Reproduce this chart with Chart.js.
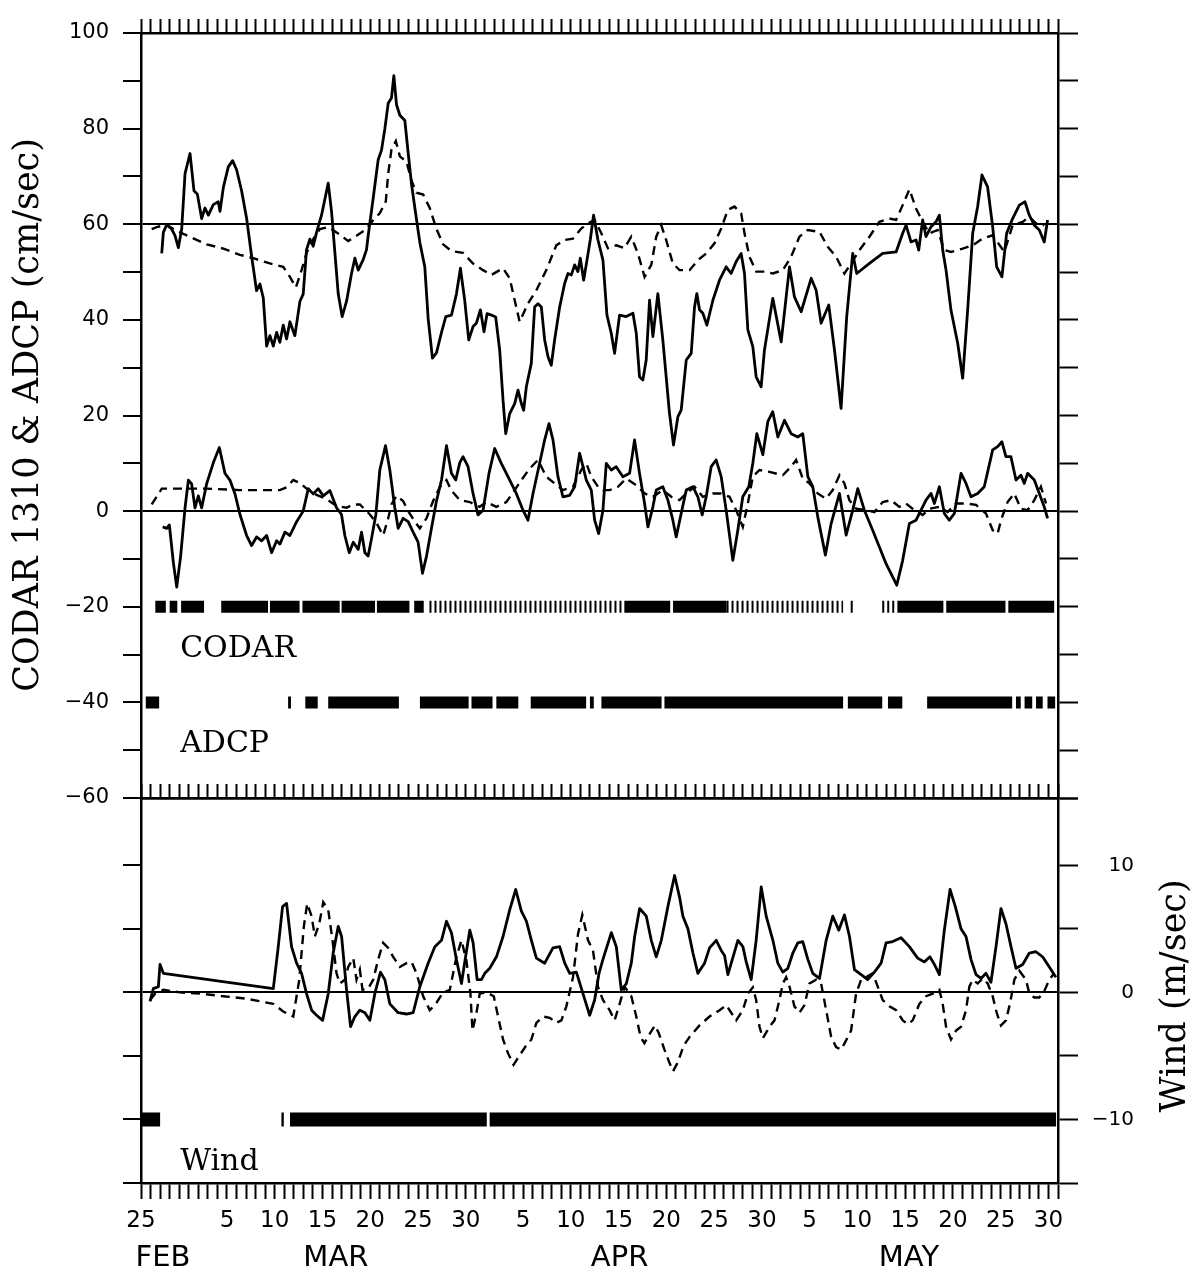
<!DOCTYPE html>
<html><head><meta charset="utf-8">
<script src="https://cdn.jsdelivr.net/npm/chart.js@4.4.1/dist/chart.umd.min.js"></script>
<style>
html,body{margin:0;padding:0;background:#fff;}
#wrap{position:relative;width:1202px;height:1274px;overflow:hidden;background:#fff;}
canvas{position:absolute;left:0;}
#c1{top:0;} #c2{top:770px;}
</style></head><body>
<div id="wrap"><canvas id="c1" width="1202" height="830"></canvas><canvas id="c2" width="1202" height="504"></canvas></div>
<script>
// ---- x axis: days since Feb 25 (1988, leap year) ----
const tickDays   = [0,9,14,19,24,29,34,40,45,50,55,60,65,70,75,80,85,90,95];
const tickLabels = ['25','5','10','15','20','25','30','5','10','15','20','25','30','5','10','15','20','25','30'];
const monthNames   = ['FEB','MAR','APR','MAY'];
const monthCenters = [2.3,20.4,50.1,80.4];

// ---- top panel: CODAR (solid) and ADCP (dashed), cm/sec ----
const codarAlong = [[2.17,53.9],[2.34,58.3],[2.69,59.9],[3.21,59.0],[3.56,57.6],[3.91,55.1],[4.26,59.0],[4.61,70.6],[5.13,74.8],[5.55,67.0],[5.9,66.3],[6.35,61.2],[6.7,63.4],[7.05,61.9],[7.57,64.1],[8.09,64.7],[8.27,62.7],[8.62,67.7],[9.14,72.0],[9.59,73.3],[10.01,71.4],[10.53,67.0],[11.06,61.2],[11.58,53.3],[12.1,46.1],[12.45,47.5],[12.8,44.6],[13.15,34.5],[13.5,36.7],[13.85,34.5],[14.2,37.4],[14.54,35.3],[14.89,38.9],[15.24,36.0],[15.59,39.6],[16.11,36.7],[16.64,43.9],[16.98,45.4],[17.33,54.7],[17.68,56.9],[18.03,55.4],[18.38,58.3],[18.9,61.9],[19.6,68.6],[19.95,62.6],[20.3,54.0],[20.65,45.4],[21.06,40.7],[21.52,43.9],[22.04,49.7],[22.39,52.9],[22.74,50.4],[23.26,52.6],[23.61,54.7],[23.78,57.6],[24.31,65.5],[24.83,73.5],[25.18,75.5],[25.53,80.0],[25.88,85.3],[26.22,86.4],[26.47,91.1],[26.75,85.0],[27.1,82.8],[27.62,81.7],[27.97,74.9],[28.32,68.4],[28.67,63.4],[29.19,56.2],[29.71,51.1],[30.06,40.3],[30.51,32.0],[30.93,33.1],[31.46,37.4],[31.91,40.7],[32.5,41.0],[33.02,45.4],[33.44,50.8],[33.89,44.1],[34.31,35.8],[34.76,38.6],[35.11,39.3],[35.53,42.1],[35.91,37.5],[36.23,41.3],[36.68,41.0],[37.13,40.6],[37.55,33.7],[37.9,23.2],[38.18,16.2],[38.6,20.4],[39.12,22.5],[39.47,25.3],[39.82,22.5],[40.06,21.1],[40.34,26.0],[40.86,30.9],[41.21,42.7],[41.56,43.4],[41.91,42.7],[42.26,35.8],[42.61,32.3],[42.95,30.5],[43.3,35.8],[43.83,42.7],[44.35,47.6],[44.7,49.7],[45.05,49.4],[45.4,51.5],[45.74,50.1],[45.99,52.9],[46.34,48.3],[46.69,52.5],[47.03,56.7],[47.38,61.9],[47.84,56.7],[48.36,52.5],[48.78,41.0],[49.23,37.2],[49.58,33.0],[50.1,41.0],[50.8,40.7],[51.5,41.4],[51.85,37.2],[52.19,28.1],[52.54,27.4],[52.89,31.6],[53.24,44.1],[53.59,36.5],[54.11,45.5],[54.63,35.8],[55.33,20.4],[55.75,13.8],[56.2,19.7],[56.55,21.1],[57.08,31.6],[57.6,33.0],[57.95,42.7],[58.19,45.5],[58.47,42.1],[58.82,41.4],[59.24,38.9],[59.87,44.1],[60.56,48.3],[61.26,51.1],[61.78,49.7],[62.31,52.2],[62.83,53.9],[63.18,49.7],[63.53,37.9],[64.05,34.4],[64.4,28.1],[64.92,26.0],[65.27,33.7],[66.14,44.5],[67.02,35.4],[67.89,51.1],[68.41,44.8],[69.11,41.7],[70.16,48.7],[70.68,46.2],[71.2,39.3],[72.0,43.1],[72.6,33.7],[73.29,21.5],[73.88,40.7],[74.51,53.9],[74.93,49.7],[76.26,51.8],[77.65,53.9],[79.05,54.2],[79.74,58.1],[80.09,59.8],[80.61,56.3],[81.14,56.7],[81.42,54.6],[81.83,60.9],[82.18,57.4],[82.71,59.5],[83.23,60.5],[83.58,61.9],[83.93,54.6],[84.28,50.4],[84.8,42.0],[85.5,35.1],[86.02,27.8],[86.54,42.0],[87.07,58.1],[87.59,63.7],[88.04,70.3],[88.63,67.8],[89.16,59.5],[89.58,51.1],[90.13,49.0],[90.62,58.1],[91.25,61.2],[91.95,64.0],[92.54,64.7],[92.99,61.9],[93.52,59.8],[94.04,58.8],[94.56,56.3],[94.91,60.9]];

const adcpAlong = [[1.12,59.0],[1.64,59.4],[2.69,59.9],[3.39,59.0],[4.43,58.0],[6.87,55.8],[8.62,54.9],[10.36,53.6],[11.75,52.9],[13.5,51.8],[14.89,51.1],[15.59,49.0],[16.22,46.8],[16.81,50.4],[17.33,54.0],[18.03,56.9],[18.73,59.0],[19.6,59.4],[20.47,58.3],[21.69,56.5],[22.56,57.6],[23.61,59.0],[24.31,60.9],[25.0,62.3],[25.63,64.8],[25.88,70.6],[26.22,75.6],[26.68,77.4],[27.1,74.2],[27.79,73.1],[28.32,69.1],[28.84,66.6],[29.54,66.2],[30.23,63.4],[30.93,59.0],[31.63,55.8],[32.5,54.4],[33.71,54.0],[34.76,51.8],[35.81,50.4],[36.68,49.4],[37.9,50.8],[38.6,48.7],[39.12,44.1],[39.64,39.6],[40.51,43.4],[41.39,46.2],[42.43,50.4],[43.48,55.6],[44.35,56.7],[45.22,57.0],[46.09,59.1],[46.79,60.2],[47.49,60.9],[48.19,58.1],[48.88,55.0],[49.75,55.6],[50.62,55.0],[51.32,57.4],[52.02,53.9],[52.72,49.0],[53.42,51.5],[53.94,57.4],[54.46,59.8],[54.98,56.7],[55.68,51.8],[56.38,50.4],[57.43,50.4],[58.3,52.5],[59.17,53.9],[60.04,56.0],[60.74,59.1],[61.43,63.0],[62.13,63.7],[62.83,62.3],[63.18,58.1],[63.7,53.2],[64.4,50.1],[65.27,50.1],[66.14,49.7],[67.19,50.4],[68.06,53.2],[68.93,57.4],[69.81,58.8],[71.03,58.4],[71.9,55.3],[72.77,53.2],[73.64,49.7],[74.34,51.8],[75.21,54.6],[76.26,57.4],[77.3,60.5],[78.35,61.2],[79.05,60.9],[79.74,64.0],[80.44,67.3],[81.14,63.3],[81.83,60.5],[82.53,58.1],[83.4,58.8],[84.1,54.6],[84.8,54.2],[86.02,54.9],[87.07,55.6],[88.11,57.0],[89.16,57.7],[90.38,54.2],[91.25,59.8],[92.3,60.5],[92.99,61.6],[93.69,60.2],[94.56,59.8]];

const codarCross = [[2.27,-3.3],[2.69,-3.6],[2.97,-2.9],[3.39,-10.8],[3.74,-15.9],[4.15,-9.4],[4.61,0.7],[4.96,6.5],[5.3,5.7],[5.65,0.7],[6.0,3.2],[6.35,0.7],[6.87,5.7],[7.57,10.1],[8.2,13.3],[8.79,7.9],[9.31,6.5],[9.84,3.6],[10.36,-0.7],[11.06,-5.1],[11.58,-7.2],[12.1,-5.4],[12.63,-6.2],[13.15,-5.1],[13.67,-8.7],[14.2,-6.2],[14.54,-6.9],[15.07,-4.4],[15.59,-5.1],[16.29,-2.2],[16.98,0.0],[17.51,4.7],[18.03,3.6],[18.55,4.7],[19.08,3.2],[19.77,4.3],[20.47,0.7],[20.99,-0.7],[21.34,-5.1],[21.8,-8.7],[22.22,-6.5],[22.74,-8.0],[23.09,-4.4],[23.44,-8.7],[23.78,-9.4],[24.13,-5.8],[24.59,-0.7],[25.0,8.6],[25.6,13.7],[26.05,8.6],[26.57,0.7],[26.92,-3.6],[27.44,-1.5],[27.97,-2.2],[28.49,-4.4],[29.01,-6.5],[29.47,-13.0],[29.89,-9.4],[30.41,-3.6],[30.93,2.1],[31.46,6.5],[31.98,13.7],[32.5,7.9],[32.95,6.5],[33.37,10.1],[33.71,11.4],[34.24,9.3],[34.76,3.7],[35.28,-0.8],[35.81,0.2],[36.43,7.9],[37.03,13.1],[37.72,10.0],[38.42,7.2],[39.29,3.7],[39.99,0.2],[40.51,-1.9],[41.04,3.7],[41.73,10.0],[42.26,14.9],[42.71,18.3],[43.13,14.9],[43.65,7.2],[44.17,3.0],[44.87,3.3],[45.4,5.1],[45.92,12.1],[46.27,9.3],[46.62,6.5],[47.14,4.4],[47.49,-1.9],[47.91,-4.7],[48.36,0.2],[48.71,10.0],[49.23,8.6],[49.75,9.3],[50.45,7.2],[51.15,7.9],[51.67,14.9],[52.19,7.9],[52.72,1.6],[53.07,-3.3],[53.59,0.9],[53.94,4.4],[54.63,5.1],[55.16,2.3],[55.68,-1.9],[56.03,-5.4],[56.55,-0.5],[57.08,4.4],[57.77,5.1],[58.3,3.0],[58.75,-0.8],[59.17,3.0],[59.69,9.3],[60.21,10.7],[60.74,7.2],[61.26,0.2],[61.96,-10.3],[62.48,-4.0],[63.0,3.0],[63.63,5.1],[64.05,10.0],[64.47,16.2],[65.1,11.8],[65.62,18.7],[66.14,20.8],[66.67,15.5],[67.37,19.0],[68.06,16.2],[68.76,15.5],[69.28,16.2],[69.81,7.2],[70.33,5.1],[70.85,-1.2],[71.65,-9.2],[72.25,-2.6],[73.12,3.7],[73.82,-5.0],[74.51,0.2],[75.04,4.7],[75.73,0.2],[76.6,-4.0],[78.0,-11.0],[79.12,-15.5],[79.74,-10.3],[80.44,-2.6],[81.14,-1.9],[81.66,0.2],[82.18,2.3],[82.71,3.7],[83.06,1.6],[83.58,5.1],[84.1,-0.5],[84.62,-1.9],[85.15,-0.5],[85.85,7.9],[86.37,5.8],[86.89,3.0],[87.59,3.7],[88.28,5.1],[89.16,12.8],[89.68,13.5],[90.13,14.5],[90.55,11.4],[91.07,11.4],[91.6,6.5],[92.12,7.5],[92.47,5.8],[92.82,7.9],[93.52,6.5],[94.04,3.7],[94.56,0.9],[94.91,-1.5]];

const adcpCross = [[1.12,1.4],[2.17,4.7],[3.39,4.7],[6.87,4.7],[10.36,4.4],[14.54,4.4],[15.24,5.0],[15.94,6.5],[16.64,5.9],[17.33,4.7],[18.38,3.4],[19.43,2.5],[20.47,1.1],[21.52,0.7],[22.22,1.4],[22.91,1.4],[23.96,-0.7],[24.66,-2.5],[25.35,-5.1],[25.88,-1.5],[26.22,1.4],[26.75,3.2],[27.44,2.1],[27.97,0.0],[28.67,-2.2],[29.19,-3.6],[29.89,-1.5],[30.58,2.1],[31.28,5.0],[31.98,6.5],[32.5,4.3],[33.37,2.3],[34.41,1.9],[35.46,0.9],[36.16,1.9],[37.2,0.9],[38.25,1.9],[39.12,4.4],[39.82,6.5],[40.69,8.9],[41.56,10.7],[42.43,7.2],[43.3,5.8],[44.17,4.4],[45.22,5.1],[46.09,8.6],[46.62,10.0],[47.14,7.2],[47.84,5.1],[48.36,4.4],[49.06,4.4],[49.93,5.1],[50.8,6.8],[51.85,5.4],[52.72,3.7],[53.59,3.0],[54.63,4.4],[55.51,3.0],[56.38,2.3],[57.08,3.7],[57.95,5.1],[58.82,3.0],[59.87,3.7],[60.74,3.7],[61.61,3.0],[62.31,0.2],[63.0,-3.3],[63.53,1.6],[64.05,7.2],[64.75,8.6],[65.8,8.2],[67.19,7.5],[68.06,9.3],[68.58,10.7],[69.28,6.8],[69.98,5.8],[70.85,3.7],[71.72,2.6],[72.42,4.4],[73.12,7.5],[73.64,5.8],[74.16,2.3],[74.86,0.5],[75.91,0.2],[76.78,-0.2],[77.65,1.9],[78.52,2.3],[79.39,0.9],[80.09,1.6],[80.96,0.2],[81.83,-0.8],[82.53,0.5],[83.58,0.9],[84.45,-0.2],[85.32,1.6],[86.37,1.6],[87.42,1.3],[88.46,-0.5],[89.16,-4.0],[89.68,-4.7],[90.03,-1.9],[90.72,1.9],[91.42,3.7],[92.12,0.5],[92.82,0.2],[93.52,2.3],[94.21,5.1],[94.74,1.6]];

// ---- data availability (day ranges) ----
const codarLevel = -20, adcpLevel = -40, windLevel = -10;
const codarDense  = [[1.5,2.6],[3.0,3.8],[4.2,6.6],[8.4,13.3],[13.5,16.6],[16.9,20.8],[21.0,24.5],[24.7,28.1],[28.6,29.6],[50.6,55.4],[55.7,61.3],[79.2,84.0],[84.3,90.5],[90.8,95.6]];
const codarSparse = [[30.2,50.6],[61.3,73.5],[74.3,74.6],[77.6,79.2]];
const adcpRanges  = [[0.5,1.9],[15.4,15.7],[17.2,18.5],[19.6,27.0],[29.2,34.3],[34.6,36.8],[37.2,39.5],[40.8,46.6],[47.0,47.4],[48.2,54.5],[54.8,73.5],[74.0,77.6],[78.2,79.7],[82.3,91.2],[91.6,92.1],[92.5,93.3],[93.7,94.4],[94.9,95.7]];
const windRanges  = [[0,2.0],[14.7,14.95],[15.6,36.2],[36.5,95.8]];

// ---- bottom panel: wind, m/sec ----
const windAlong = [[0.95,-0.7],[1.29,0.3],[1.82,0.45],[1.99,2.2],[2.34,1.5],[13.85,0.3],[14.37,3.6],[14.82,6.75],[15.24,7.0],[15.76,3.6],[16.29,2.3],[16.81,1.5],[17.33,-0.1],[17.86,-1.4],[18.38,-1.8],[19.01,-2.2],[19.6,-0.1],[20.12,3.1],[20.65,5.2],[21.0,4.4],[21.52,0.2],[21.94,-2.7],[22.39,-1.9],[22.91,-1.4],[23.44,-1.6],[23.96,-2.2],[24.48,-0.1],[25.07,1.6],[25.53,1.0],[26.05,-0.9],[26.92,-1.6],[27.79,-1.7],[28.49,-1.6],[29.19,0.45],[30.06,2.3],[30.76,3.6],[31.46,4.1],[31.98,5.6],[32.5,4.7],[33.02,2.6],[33.55,0.7],[34.0,2.9],[34.42,4.9],[34.77,3.9],[35.19,1.0],[35.64,1.0],[35.99,1.5],[36.51,1.9],[37.21,2.8],[37.9,4.4],[38.6,6.5],[39.23,8.1],[39.82,6.4],[40.35,5.6],[40.87,4.1],[41.39,2.7],[42.26,2.3],[43.13,3.5],[43.83,3.6],[44.36,2.3],[44.88,1.5],[45.58,1.6],[46.27,-0.1],[46.97,-1.8],[47.49,-0.6],[47.95,1.5],[48.36,2.6],[49.24,4.7],[49.76,3.6],[50.28,0.2],[50.81,0.7],[51.33,2.3],[51.68,4.4],[52.2,6.6],[52.9,6.0],[53.42,4.1],[53.94,2.8],[54.47,4.1],[55.16,6.75],[55.86,9.2],[56.38,7.5],[56.73,6.0],[57.26,5.0],[57.78,3.1],[58.3,1.5],[59.0,2.3],[59.52,3.5],[60.22,4.1],[60.74,3.3],[61.09,2.9],[61.44,1.4],[61.79,2.3],[62.49,4.1],[63.01,3.6],[63.36,2.4],[63.88,1.0],[64.4,4.1],[64.93,8.3],[65.45,6.0],[66.15,4.1],[66.67,2.3],[67.19,1.6],[67.72,1.9],[68.24,3.1],[68.76,3.9],[69.28,4.0],[69.81,2.6],[70.33,1.5],[71.03,1.1],[71.73,4.1],[72.42,6.0],[73.05,4.9],[73.64,6.1],[74.17,4.4],[74.69,1.8],[75.39,1.4],[76.08,1.0],[76.78,1.6],[77.48,2.3],[78.0,3.9],[78.7,4.0],[79.57,4.3],[80.44,3.6],[81.31,2.7],[82.01,2.4],[82.6,2.8],[83.06,2.2],[83.58,1.4],[84.1,4.9],[84.7,8.1],[85.25,6.75],[85.85,5.0],[86.37,4.4],[86.89,2.6],[87.42,1.4],[87.94,1.1],[88.46,1.5],[88.98,0.8],[89.51,3.6],[90.03,6.6],[90.55,5.4],[91.08,3.6],[91.6,1.9],[92.3,2.2],[93.0,3.1],[93.69,3.2],[94.39,2.8],[95.09,2.0],[95.78,1.2]];

const windCross = [[0.95,-0.6],[1.47,-0.1],[2.34,0.2],[4.08,0.0],[6.18,-0.1],[8.62,-0.3],[11.06,-0.5],[13.85,-0.9],[14.89,-1.5],[15.94,-1.9],[16.57,1.0],[17.05,5.2],[17.4,7.0],[17.86,6.0],[18.2,4.4],[18.66,5.4],[19.08,7.1],[19.6,6.5],[20.05,4.1],[20.47,1.5],[20.82,0.7],[21.34,1.0],[21.69,2.0],[22.22,2.7],[22.56,1.0],[22.91,1.8],[23.19,0.2],[23.78,0.3],[24.31,1.0],[24.83,2.6],[25.35,3.9],[25.88,3.5],[26.4,2.8],[27.1,2.0],[27.79,2.3],[28.32,2.4],[28.84,1.5],[29.54,-0.3],[30.23,-1.4],[30.86,-0.9],[31.63,0.0],[32.33,0.2],[33.02,2.8],[33.55,4.1],[34.07,2.5],[34.49,-0.1],[34.7,-3.0],[35.12,-1.6],[35.46,-0.1],[36.16,0.0],[36.93,-0.3],[37.38,-1.9],[37.9,-3.7],[38.43,-4.8],[39.0,-5.7],[39.6,-5.0],[40.3,-4.2],[40.87,-3.7],[41.39,-2.4],[42.09,-1.9],[42.79,-2.0],[43.48,-2.4],[44.01,-2.2],[44.53,-1.1],[45.23,1.2],[45.75,4.6],[46.2,6.1],[46.8,4.1],[47.32,3.3],[47.84,0.45],[48.36,-0.6],[49.06,-1.4],[49.58,-2.2],[50.11,-0.9],[50.63,0.45],[51.33,-0.3],[51.85,-1.9],[52.3,-3.5],[52.7,-4.0],[53.3,-3.2],[53.8,-2.6],[54.2,-3.2],[54.8,-4.5],[55.3,-5.5],[55.7,-6.2],[56.2,-5.5],[56.8,-4.2],[57.43,-3.5],[58.47,-2.6],[59.52,-1.9],[60.57,-1.4],[61.27,-1.0],[61.79,-1.6],[62.31,-2.2],[63.01,-1.4],[63.53,-0.1],[64.05,0.4],[64.4,-0.6],[64.75,-2.7],[65.1,-3.6],[65.8,-2.7],[66.32,-2.2],[66.84,-0.6],[67.19,0.7],[67.54,1.2],[67.89,0.45],[68.41,-1.1],[68.93,-1.6],[69.46,-1.0],[69.98,0.7],[70.68,1.0],[71.2,0.7],[71.73,-1.4],[72.25,-3.5],[72.77,-4.3],[73.3,-4.5],[73.8,-3.8],[74.34,-3.0],[74.86,-0.1],[75.39,1.0],[75.91,1.2],[76.61,1.5],[77.13,0.45],[77.65,-0.6],[78.35,-1.1],[79.05,-1.4],[79.75,-2.2],[80.27,-2.5],[80.79,-2.2],[81.49,-0.9],[82.19,-0.3],[82.88,-0.1],[83.58,0.2],[83.93,-0.9],[84.28,-2.7],[84.8,-3.7],[85.33,-3.0],[85.85,-2.7],[86.37,-1.4],[86.72,0.45],[87.07,1.0],[87.59,0.7],[88.11,1.1],[88.64,0.7],[89.16,-0.3],[89.58,-1.6],[90.03,-2.6],[90.55,-2.2],[90.97,-0.9],[91.43,1.0],[91.95,1.7],[92.65,1.0],[93.0,-0.1],[93.52,-0.4],[94.04,-0.4],[94.56,0.1],[95.09,1.0],[95.6,1.5]];

// ---- helpers ----
const AX = '#000';
const NONE = 'rgba(0,0,0,0)';
const SERIF = '"DejaVu Serif", "Liberation Serif", serif';
const pts = a => a.map(([x, y]) => ({x, y}));
const segs = (a, level) => a.flatMap(([s, e]) => [{x:s, y:level}, {x:e, y:level}, {x:e, y:null}]);
const fmt = v => v < 0 ? '\u2212' + Math.abs(v) : String(v);
const solid  = (data) => ({data, borderColor:AX, borderWidth:2.8, pointRadius:0, fill:false, tension:0, borderJoinStyle:'round'});
const dashed = (data) => ({data, borderColor:AX, borderWidth:2.4, borderDash:[9,6], pointRadius:0, fill:false, tension:0});
const bar = (data, w, dash) => ({data, borderColor:AX, borderWidth:w, borderCapStyle:'butt', borderDash:dash || [], pointRadius:0, fill:false, spanGaps:false});

const textPlugin = {
  id: 'panelText',
  afterDraw(chart, args, opts) {
    const ctx = chart.ctx, xs = chart.scales.x, ys = chart.scales.y;
    ctx.save();
    ctx.fillStyle = AX;
    ctx.textAlign = 'left';
    ctx.textBaseline = 'alphabetic';
    ctx.font = opts.size + 'px ' + SERIF;
    for (const t of opts.items) ctx.fillText(t.text, xs.getPixelForValue(t.x), ys.getPixelForValue(t.y));
    const T = opts.title;
    ctx.translate(T.x, T.y);
    ctx.rotate(-Math.PI / 2);
    ctx.textAlign = 'center';
    ctx.textBaseline = 'middle';
    ctx.font = T.size + 'px ' + SERIF;
    ctx.fillText(T.text, 0, 0);
    ctx.restore();
  }
};

Chart.defaults.color = AX;
Chart.defaults.font.family = '"DejaVu Sans", sans-serif';

const dayAxisTop = {
  type:'linear', position:'top', min:0, max:96,
  ticks:{display:false, stepSize:1, autoSkip:false},
  grid:{drawOnChartArea:false, tickLength:14, tickWidth:2, tickColor:AX},
  border:{color:AX, width:2.5},
  afterFit: s => { s.height = 14; }
};

// ---- top panel ----
new Chart(document.getElementById('c1'), {
  type:'line',
  data:{datasets:[
    solid(pts(codarAlong)), dashed(pts(adcpAlong)),
    solid(pts(codarCross)), dashed(pts(adcpCross)),
    bar(segs(codarDense, codarLevel), 12), bar(segs(codarSparse, codarLevel), 12, [2,3]),
    bar(segs(adcpRanges, adcpLevel), 12)
  ]},
  options:{
    responsive:false, animation:false, devicePixelRatio:1,
    layout:{padding:{left:0, right:124, top:19, bottom:32}},
    plugins:{legend:{display:false}, tooltip:{enabled:false},
      panelText:{size:30,
        items:[{text:'CODAR', x:4.1, y:-30.5}, {text:'ADCP', x:4.1, y:-50.4}],
        title:{text:'CODAR 1310 & ADCP (cm/sec)', x:29, y:415, size:35}}},
    scales:{
      x:{type:'linear', position:'bottom', min:0, max:96,
         ticks:{display:false}, grid:{drawOnChartArea:false, drawTicks:false},
         border:{color:AX, width:2.5}, afterFit: s => { s.height = 0; }},
      xTop: dayAxisTop,
      y:{type:'linear', position:'left', min:-60, max:100,
         ticks:{stepSize:10, autoSkip:false, padding:14, font:{size:21}, callback: v => v % 20 === 0 ? fmt(v) : ''},
         grid:{color: c => (c.tick && (c.tick.value === 0 || c.tick.value === 60)) ? AX : NONE,
               lineWidth:2, tickLength:18, tickWidth:2, tickColor:AX},
         border:{color:AX, width:2.5}, afterFit: s => { s.width = 141; }},
      yR:{type:'linear', position:'right', min:-60, max:100,
         ticks:{display:false, stepSize:10, autoSkip:false},
         grid:{drawOnChartArea:false, tickLength:20, tickWidth:2, tickColor:AX},
         border:{color:AX, width:2.5}, afterFit: s => { s.width = 20; }}
    }
  },
  plugins:[textPlugin]
});

// ---- bottom panel ----
new Chart(document.getElementById('c2'), {
  type:'line',
  data:{datasets:[
    solid(pts(windAlong)), dashed(pts(windCross)),
    bar(segs(windRanges, windLevel), 14)
  ]},
  options:{
    responsive:false, animation:false, devicePixelRatio:1,
    layout:{padding:{left:0, right:68, top:14, bottom:1}},
    plugins:{legend:{display:false}, tooltip:{enabled:false},
      panelText:{size:30,
        items:[{text:'Wind', x:4.1, y:-14.0}],
        title:{text:'Wind (m/sec)', x:1176, y:226, size:35}}},
    scales:{
      x:{type:'linear', position:'bottom', min:0, max:96, weight:0,
         ticks:{stepSize:1, autoSkip:false, maxRotation:0, padding:8, font:{size:23},
                callback: v => { const i = tickDays.indexOf(v); return i >= 0 ? tickLabels[i] : ''; }},
         grid:{drawOnChartArea:false, tickLength:16, tickWidth:2, tickColor:AX},
         border:{color:AX, width:2.5}, afterFit: s => { s.height = 46; }},
      xM:{type:'linear', position:'bottom', min:0, max:96, weight:1,
         afterBuildTicks: s => { s.ticks = monthCenters.map(v => ({value:v})); },
         ticks:{autoSkip:false, maxRotation:0, padding:4, font:{size:29}, callback: (v, i) => monthNames[i]},
         grid:{display:false}, border:{display:false}, afterFit: s => { s.height = 44; }},
      xTop: dayAxisTop,
      y:{type:'linear', position:'left', min:-15, max:15.3,
         ticks:{display:false, stepSize:5},
         grid:{color: c => (c.tick && c.tick.value === 0) ? AX : NONE,
               lineWidth:2, tickLength:18, tickWidth:2, tickColor:AX},
         border:{color:AX, width:2.5}, afterFit: s => { s.width = 141; }},
      yR:{type:'linear', position:'right', min:-15, max:15.3,
         ticks:{stepSize:5, crossAlign:'far', font:{size:20}, callback: v => [10,0,-10].includes(v) ? fmt(v) : ''},
         grid:{drawOnChartArea:false, tickLength:20, tickWidth:2, tickColor:AX},
         border:{color:AX, width:2.5}, afterFit: s => { s.width = 76; }}
    }
  },
  plugins:[textPlugin]
});
</script>
</body></html>
